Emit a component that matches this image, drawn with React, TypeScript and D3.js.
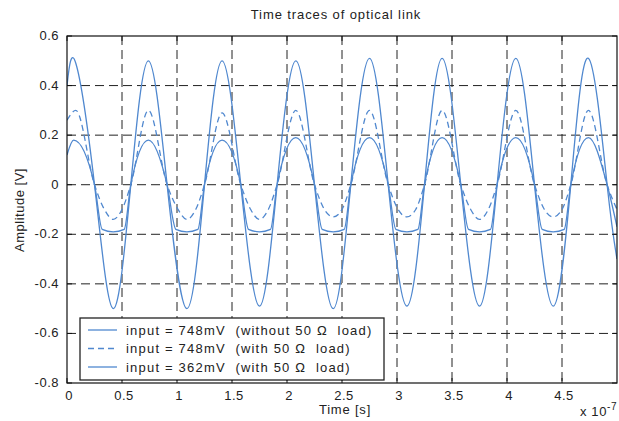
import * as d3 from 'd3';

// time axis values are in units of 1e-7 s
const xTickValues = [0, 0.5, 1, 1.5, 2, 2.5, 3, 3.5, 4, 4.5];
const xTickLabels = ['0', '0.5', '1', '1.5', '2', '2.5', '3', '3.5', '4', '4.5'];
const yTickValues = [0.6, 0.4, 0.2, 0, -0.2, -0.4, -0.6, -0.8];
const yTickLabels = ['0.6', '0.4', '0.2', '0', '-0.2', '-0.4', '-0.6', '-0.8'];

// input = 748mV (without 50 ohm load)
const t1 = [0, 0.08, 0.25, 0.42, 0.58, 0.74, 0.91, 1.09, 1.25, 1.41, 1.58, 1.75, 1.91, 2.08, 2.25, 2.42,
  2.58, 2.75, 2.92, 3.09, 3.25, 3.41, 3.58, 3.75, 3.91, 4.08, 4.25, 4.42, 4.58, 4.74, 4.91, 5.0];
const v1 = [0.4, 0.49, 0, -0.5, 0, 0.5, 0, -0.5, 0, 0.5, 0, -0.49, 0, 0.5, 0, -0.5,
  0, 0.51, 0, -0.49, 0, 0.51, 0, -0.49, 0, 0.51, 0, -0.49, 0, 0.51, 0, -0.3];

// input = 748mV (with 50 ohm load)
const t2 = [0, 0.08, 0.25, 0.34, 0.42, 0.5, 0.58, 0.74, 0.91, 1.01, 1.09, 1.17, 1.25, 1.41, 1.58, 1.67,
  1.75, 1.83, 1.91, 2.08, 2.25, 2.34, 2.42, 2.5, 2.58, 2.75, 2.92, 3.01, 3.09, 3.17, 3.25, 3.41, 3.58,
  3.67, 3.75, 3.83, 3.91, 4.08, 4.25, 4.34, 4.42, 4.5, 4.58, 4.74, 4.91, 5.0];
const v2 = [0.26, 0.3, 0, -0.1, -0.14, -0.1, 0, 0.3, 0, -0.1, -0.14, -0.1, 0, 0.29, 0, -0.1,
  -0.14, -0.1, 0, 0.3, 0, -0.1, -0.13, -0.1, 0, 0.3, 0, -0.1, -0.13, -0.1, 0, 0.3, 0,
  -0.1, -0.14, -0.1, 0, 0.3, 0, -0.1, -0.13, -0.1, 0, 0.3, 0, -0.1];

// input = 362mV (with 50 ohm load)
const t3 = [0, 0.06, 0.25, 0.32, 0.42, 0.52, 0.58, 0.74, 0.91, 0.99, 1.09, 1.19, 1.25, 1.41, 1.58, 1.65,
  1.75, 1.85, 1.91, 2.08, 2.25, 2.32, 2.42, 2.52, 2.58, 2.75, 2.92, 2.99, 3.09, 3.19, 3.25, 3.41, 3.58,
  3.65, 3.75, 3.85, 3.91, 4.08, 4.25, 4.32, 4.42, 4.52, 4.58, 4.74, 4.91, 5.0];
const v3 = [0.12, 0.18, 0, -0.18, -0.19, -0.18, 0, 0.18, 0, -0.18, -0.19, -0.18, 0, 0.18, 0, -0.18,
  -0.19, -0.18, 0, 0.19, 0, -0.18, -0.19, -0.18, 0, 0.19, 0, -0.18, -0.19, -0.18, 0, 0.19, 0,
  -0.18, -0.19, -0.18, 0, 0.19, 0, -0.18, -0.19, -0.18, 0, 0.19, 0, -0.17];

const legendLabels = [
  'input = 748mV  (without 50 \u03A9  load)',
  'input = 748mV  (with 50 \u03A9  load)',
  'input = 362mV  (with 50 \u03A9  load)',
];

const W = 619;
const H = 421;
const left = 67, right = 617, top = 36, bottom = 383;
const lineColor = '#5088cf';
const font = 'Liberation Sans, Arial, sans-serif';

export default function App() {
  const x = d3.scaleLinear().domain([0, 5]).range([left, right]);
  const y = d3.scaleLinear().domain([-0.8, 0.6]).range([bottom, top]);

  const smooth = d3.line<[number, number]>()
    .x(d => x(d[0]))
    .y(d => y(d[1]))
    .curve(d3.curveNatural);
  const mono = d3.line<[number, number]>()
    .x(d => x(d[0]))
    .y(d => y(d[1]))
    .curve(d3.curveMonotoneX);

  const s1 = t1.map((t, i) => [t, v1[i]] as [number, number]);
  const s2 = t2.map((t, i) => [t, v2[i]] as [number, number]);
  const s3 = t3.map((t, i) => [t, v3[i]] as [number, number]);

  const series = [
    { d: smooth(s1), dash: undefined },
    { d: mono(s2), dash: '6,4' },
    { d: mono(s3), dash: undefined },
  ];

  const lg = { x: 80, y: 318, w: 304, h: 62 };

  return (
    <svg width={W} height={H} style={{ position: 'absolute', left: 0, top: 0, background: '#fff' }}
      fontFamily={font}>
      <rect x={0} y={0} width={W} height={H} fill="#fff" />

      {/* grid */}
      <g stroke="#222" strokeWidth={1} strokeDasharray="9,5">
        {xTickValues.filter(v => v > 0).map(v => (
          <line key={'gx' + v} x1={x(v)} x2={x(v)} y1={top} y2={bottom} />
        ))}
        {yTickValues.filter(v => v > -0.8 && v < 0.6).map(v => (
          <line key={'gy' + v} x1={left} x2={right} y1={y(v)} y2={y(v)} />
        ))}
      </g>

      {/* traces */}
      <defs>
        <clipPath id="plot">
          <rect x={left} y={top} width={right - left} height={bottom - top} />
        </clipPath>
      </defs>
      <g clipPath="url(#plot)" fill="none" stroke={lineColor} strokeWidth={1.3}>
        {series.map((s, i) => (
          <path key={i} d={s.d || ''} strokeDasharray={s.dash} />
        ))}
      </g>

      {/* box and ticks */}
      <rect x={left} y={top} width={right - left} height={bottom - top} fill="none" stroke="#111" strokeWidth={1.2} />
      <g stroke="#111" strokeWidth={1}>
        {xTickValues.map(v => (
          <g key={'tx' + v}>
            <line x1={x(v)} x2={x(v)} y1={bottom} y2={bottom - 5} />
            <line x1={x(v)} x2={x(v)} y1={top} y2={top + 5} />
          </g>
        ))}
        {yTickValues.map(v => (
          <g key={'ty' + v}>
            <line x1={left} x2={left + 5} y1={y(v)} y2={y(v)} />
            <line x1={right} x2={right - 5} y1={y(v)} y2={y(v)} />
          </g>
        ))}
      </g>

      {/* tick labels */}
      <g fontSize={13} fill="#222" letterSpacing={0.5}>
        {xTickValues.map((v, i) => (
          <text key={'lx' + v} x={x(v) + 2} y={400} textAnchor="middle">{xTickLabels[i]}</text>
        ))}
        {yTickValues.map((v, i) => (
          <text key={'ly' + v} x={left - 8} y={y(v) + 4} textAnchor="end">{yTickLabels[i]}</text>
        ))}
      </g>

      {/* titles */}
      <text x={336} y={19} textAnchor="middle" fontSize={13} letterSpacing={0.9} fill="#222">
        Time traces of optical link
      </text>
      <text x={345} y={414} textAnchor="middle" fontSize={13} letterSpacing={0.8} fill="#222">Time [s]</text>
      <text x={580} y={416} fontSize={13} fill="#222" letterSpacing={0.6}>
        x 10<tspan dy={-6} fontSize={10}>-7</tspan>
      </text>
      <text transform="translate(24,210) rotate(-90)" textAnchor="middle" fontSize={13} letterSpacing={0.5} fill="#222">
        Amplitude [V]
      </text>

      {/* legend */}
      <rect x={lg.x} y={lg.y} width={lg.w} height={lg.h} fill="#fff" stroke="#222" strokeWidth={1.3} />
      {legendLabels.map((label, i) => {
        const ly = lg.y + 12 + i * 18.5;
        return (
          <g key={'lg' + i}>
            <line x1={88} x2={117} y1={ly} y2={ly} stroke={lineColor} strokeWidth={1.3}
              strokeDasharray={series[i].dash} />
            <text x={126} y={ly + 4.5} fontSize={13} letterSpacing={1.2} fill="#222"
              style={{ whiteSpace: 'pre' }}>{label}</text>
          </g>
        );
      })}
    </svg>
  );
}
